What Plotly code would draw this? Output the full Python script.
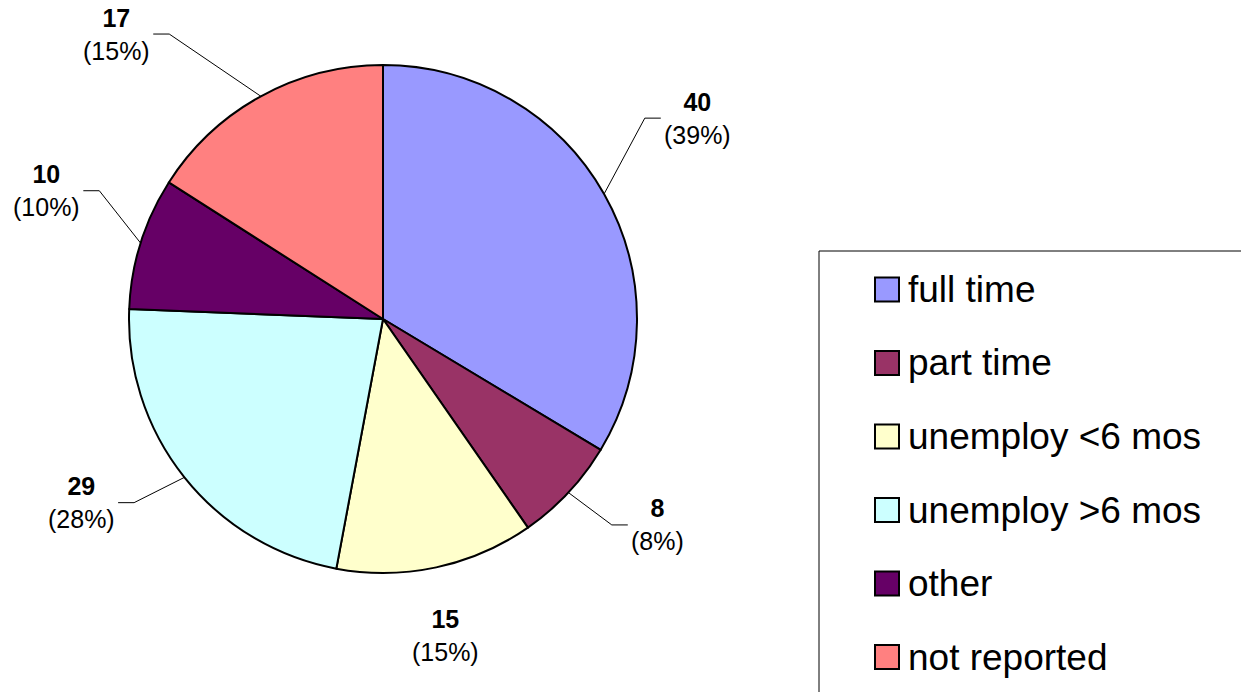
import math
import plotly.graph_objects as go

# ---- data ----
categories = ["full time", "part time", "unemploy <6 mos", "unemploy >6 mos", "other", "not reported"]
slice_values = [40, 8, 15, 27, 10, 19]        # slice sizes as drawn in the pie
label_counts = [40, 8, 15, 29, 10, 17]        # counts printed in the labels
label_percents = [39, 8, 15, 28, 10, 15]      # percentages printed in the labels
colors = ["#9999FF", "#993366", "#FFFFCC", "#CCFFFF", "#660066", "#FF8080"]

# ---- layout constants ----
W, H = 1241, 692
CX, CY, R = 383, 319, 254
LABEL_DIST = [1.468, 1.35, 1.272, 1.389, 1.416, 1.535]
LABEL_NUDGE = [-3.1, -6.2, 0.9, 7.2, 3.5, -14.3]
SHOW_LEADER = [True, True, False, True, True, True]
FONT = "Liberation Sans, Arial, Helvetica, sans-serif"
LABEL_SIZE = 25
LEG_SIZE = 37


def px(x):
    return x / W


def py(y):
    return 1 - y / H


def text_width(s, size):
    w = {"(": 0.333, ")": 0.333, "%": 0.889}
    return sum(w.get(c, 0.556) for c in s) * size


fig = go.Figure()
fig.add_trace(go.Pie(
    labels=categories,
    values=slice_values,
    sort=False,
    direction="clockwise",
    rotation=0,
    marker=dict(colors=colors, line=dict(color="black", width=2)),
    textinfo="none",
    hoverinfo="label+value",
    domain=dict(x=[px(CX - R), px(CX + R)], y=[py(CY + R), py(CY - R)]),
    showlegend=False,
))

annotations = []
shapes = []
total = sum(slice_values)
cum = 0
for i, v in enumerate(slice_values):
    mid = (cum + v / 2) / total * 360
    cum += v
    th = math.radians(mid)
    ex, ey = CX + R * math.sin(th), CY - R * math.cos(th)
    tl = math.radians(mid + LABEL_NUDGE[i])
    lx = CX + R * LABEL_DIST[i] * math.sin(tl)
    ly = CY - R * LABEL_DIST[i] * math.cos(tl)
    pct = f"({label_percents[i]}%)"
    annotations.append(dict(
        x=px(lx), y=py(ly), xref="paper", yref="paper",
        text=f"<b>{label_counts[i]}</b><br>{pct}",
        showarrow=False, xanchor="center", yanchor="middle",
        font=dict(family=FONT, size=LABEL_SIZE, color="black"),
        align="center",
    ))
    if SHOW_LEADER[i]:
        half = text_width(pct, LABEL_SIZE) / 2
        if lx > CX:
            qx = lx - half - 3
            pxx = qx - 16
        else:
            qx = lx + half + 3
            pxx = qx + 16
        path = f"M {px(ex)},{py(ey)} L {px(pxx)},{py(ly)} L {px(qx)},{py(ly)}"
        shapes.append(dict(type="path", xref="paper", yref="paper", path=path,
                           line=dict(color="black", width=1)))

# ---- custom legend ----
LEG_X0, LEG_Y0 = 819, 251
ITEM_Y0, ITEM_DY = 289.5, 73.5
SW_X0, SW = 875, 24
TEXT_X = 906
shapes.append(dict(type="rect", xref="paper", yref="paper",
                   x0=px(LEG_X0), x1=px(W + 20), y0=py(H + 20), y1=py(LEG_Y0),
                   line=dict(color="black", width=1), fillcolor="rgba(0,0,0,0)"))
for i, name in enumerate(categories):
    yc = ITEM_Y0 + i * ITEM_DY
    shapes.append(dict(type="rect", xref="paper", yref="paper",
                       x0=px(SW_X0), x1=px(SW_X0 + SW), y0=py(yc + SW / 2), y1=py(yc - SW / 2),
                       line=dict(color="black", width=2), fillcolor=colors[i]))
    annotations.append(dict(
        x=px(TEXT_X), y=py(yc), xref="paper", yref="paper",
        text=name, showarrow=False, xanchor="left", yanchor="middle",
        font=dict(family=FONT, size=LEG_SIZE, color="black"),
    ))

fig.update_layout(
    width=W, height=H,
    margin=dict(l=0, r=0, t=0, b=0),
    paper_bgcolor="white",
    plot_bgcolor="white",
    showlegend=False,
    annotations=annotations,
    shapes=shapes,
)

fig.write_html(
    "out.html",
    config={"displayModeBar": False},
    post_script="document.body.style.margin='0px';document.body.style.overflow='hidden';",
)
